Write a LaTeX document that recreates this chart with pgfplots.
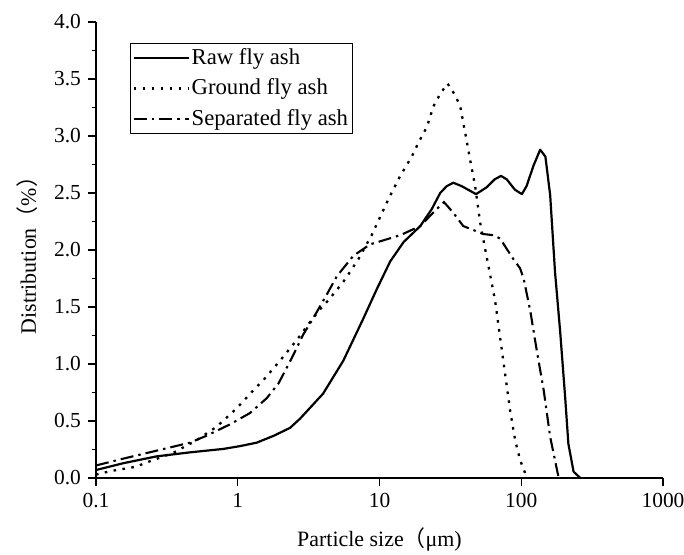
\documentclass[border=0pt]{standalone}
\usepackage{pgfplots}
\pgfplotsset{compat=1.18}
\usepackage{fontspec}
\setmainfont{Liberation Serif}
\newfontfamily\cjk{Noto Sans CJK SC}
\begin{document}
\fontsize{21}{25}\selectfont
\begin{tikzpicture}
\begin{axis}[
  name=ax,
  scale only axis,
  width=567bp, height=456bp,
  xmode=log, log basis x=10,
  xmin=0.1, xmax=1000, ymin=0, ymax=4,
  axis lines=left,
  axis line style={-, line width=1.6bp},
  tick align=outside,
  major tick length=8bp, minor tick length=4.5bp,
  every tick/.style={black, line width=1.3bp},
  xtick={0.1,1,10,100,1000},
  xticklabels={0.1,1,10,100,1000},
  ytick={0,0.5,...,4.0},
  minor ytick={0.25,0.75,...,3.75},
  yticklabel style={/pgf/number format/.cd, fixed, fixed zerofill, precision=1, assume math mode=true},
  xticklabel style={/pgf/number format/assume math mode=true},
  tick label style={font=\fontsize{21.5}{25}\selectfont},
  label style={font=\fontsize{22}{26}\selectfont},
  xlabel={Particle size{\cjk （}μm)},
  ylabel={Distribution{\cjk （}\%{\cjk ）}},
  xlabel style={yshift=-6bp},
  ylabel style={yshift=2bp},
  legend cell align=left,
  legend style={at={(0.060,0.954)}, anchor=north west, draw=black, line width=0.7bp,
    font=\fontsize{22.8}{26}\selectfont, inner xsep=2bp, inner ysep=3.5bp, row sep=7bp},
  legend image code/.code={\draw[#1] (0bp,0bp) -- (55bp,0bp);},
]
\addplot[black, line width=2.2bp, line join=round] coordinates {
(0.1,0.07) (0.156,0.13) (0.268,0.19) (0.46,0.225) (0.79,0.255) (1.04,0.28)
(1.36,0.31) (1.79,0.37) (2.34,0.44) (2.75,0.52) (4.0,0.74) (5.56,1.03)
(7.7,1.40) (9.6,1.66) (11.9,1.90) (14.8,2.07) (19.4,2.21) (23.4,2.36)
(26.8,2.50) (29.8,2.56) (33.2,2.59) (38,2.56) (48,2.49) (57,2.55)
(65,2.62) (72,2.65) (79,2.62) (90,2.53) (101,2.49) (109,2.56) (122,2.74)
(136,2.88) (148,2.82) (160,2.48) (173,1.81) (188,1.29) (204,0.71)
(215,0.30) (234,0.055) (261,0.0)
};
\addlegendentry{Raw fly ash}
\addplot[black, line width=2.3bp, dash pattern=on 2.6bp off 6.4bp] coordinates {
(0.1,0.03) (0.126,0.06) (0.194,0.10) (0.22,0.13) (0.35,0.22) (0.51,0.33)
(0.71,0.45) (0.98,0.61) (1.29,0.77) (1.52,0.86) (1.99,1.03) (2.61,1.21)
(3.24,1.37) (3.81,1.48) (4.36,1.56) (5.0,1.65) (5.7,1.74) (7.1,1.92)
(8.8,2.13) (11.6,2.45) (14,2.65) (16.9,2.82) (18.8,2.94) (21.6,3.08)
(24,3.26) (26.8,3.37) (30.2,3.46) (34.1,3.36) (37.1,3.26) (40.2,3.03)
(43.6,2.79) (47.3,2.56) (51.3,2.24) (55.6,2.01) (60.4,1.78) (65.5,1.55)
(71,1.23) (77,0.91) (83.5,0.59) (90.6,0.33) (98,0.16) (109,0.01)
};
\addlegendentry{Ground fly ash}
\addplot[black, line width=2.1bp, dash pattern=on 13bp off 5bp on 2.5bp off 5bp] coordinates {
(0.1,0.11) (0.156,0.17) (0.268,0.24) (0.46,0.31) (0.60,0.37) (0.88,0.47)
(1.22,0.57) (1.6,0.70) (1.94,0.83) (2.4,1.05) (2.9,1.26) (3.4,1.40)
(4.25,1.61) (5.0,1.77) (6.55,1.95) (8.6,2.05) (11,2.09) (14,2.13)
(19.4,2.21) (24,2.33) (28.5,2.42) (33,2.33) (39,2.21) (47,2.17)
(54,2.14) (63.7,2.13) (71,2.10) (79,2.01) (88,1.92) (98,1.84) (104,1.75)
(116,1.46) (129,1.11) (144,0.77) (160,0.36) (183,0.01)
};
\addlegendentry{Separated fly ash}
\end{axis}
\pgfresetboundingbox
\path ([shift={(-96bp,-76bp)}]ax.south west) rectangle ([shift={(21bp,22bp)}]ax.north east);
\end{tikzpicture}
\end{document}
